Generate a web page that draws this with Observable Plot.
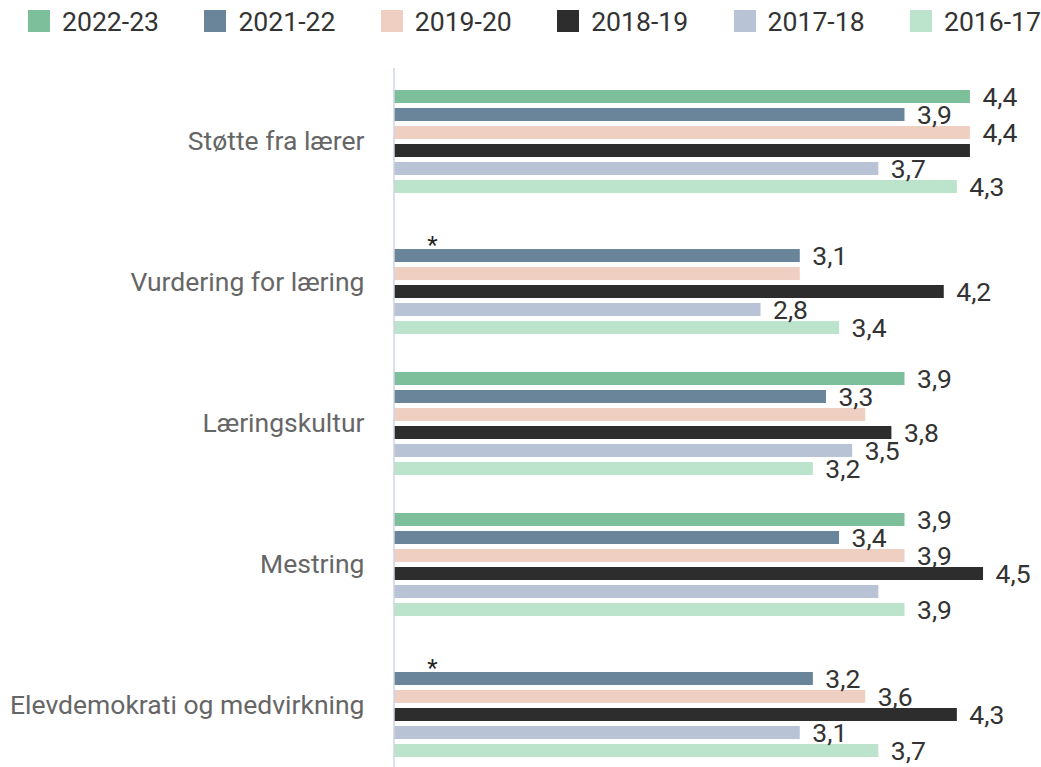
<!DOCTYPE html>
<html><head><meta charset="utf-8">
<script src="https://cdn.jsdelivr.net/npm/d3@7"></script>
<script src="https://cdn.jsdelivr.net/npm/@observablehq/plot@0.6"></script>
<style>
body{margin:0;background:#fff;font-family:Roboto,sans-serif;}
#legend{display:flex;height:42px;align-items:center;padding-left:28px;}
.item{display:flex;align-items:center;width:176.4px;font-size:26.6px;color:#333;flex:none;}
.sw{width:22px;height:22px;margin-right:12px;flex:none;}
</style></head><body>
<div id="legend"></div><div id="chart"></div>
<script>
const categories = ["Støtte fra lærer","Vurdering for læring","Læringskultur","Mestring","Elevdemokrati og medvirkning"];
const years = ["2022-23","2021-22","2019-20","2018-19","2017-18","2016-17"];
const colors = ["#7dbf9a","#6a8499","#f0cfc3","#2d2d2d","#b8c4d6","#bce3cb"];

// values per category, in the order of `years` (null = no data, marked with *)
const stotte        = [4.4, 3.9, 4.4, 4.4, 3.7, 4.3];
const vurdering     = [null, 3.1, 3.1, 4.2, 2.8, 3.4];
const laringskultur = [3.9, 3.3, 3.6, 3.8, 3.5, 3.2];
const mestring      = [3.9, 3.4, 3.9, 4.5, 3.7, 3.9];
const elevdemokrati = [null, 3.2, 3.6, 4.3, 3.1, 3.7];

// which value labels are printed in the original (1 = shown)
const stotteLabels        = [1,1,1,0,1,1];
const vurderingLabels     = [0,1,0,1,1,1];
const laringskulturLabels = [1,1,0,1,1,1];
const mestringLabels      = [1,1,1,1,0,1];
const elevdemokratiLabels = [0,1,1,1,1,1];

const series = [stotte, vurdering, laringskultur, mestring, elevdemokrati];
const labelFlags = [stotteLabels, vurderingLabels, laringskulturLabels, mestringLabels, elevdemokratiLabels];

const rows = [];
categories.forEach((cat, i) => years.forEach((year, j) => {
  rows.push({cat, year, value: series[i][j], show: labelFlags[i][j] === 1, base: 0});
}));

const fmt = v => d3.format(".1f")(v).replace(".", ",");

// legend
const legend = d3.select("#legend");
years.forEach((y, i) => {
  const it = legend.append("div").attr("class", "item");
  it.append("div").attr("class", "sw").style("background", colors[i]);
  it.append("span").text(y);
});

const W = 1041, H = 767 - 42;
const plot = Plot.plot({
  width: W,
  height: H,
  marginLeft: 394,
  marginRight: 18.7,
  marginTop: 43,
  marginBottom: 5,
  style: {fontFamily: "Roboto, sans-serif", fontSize: "26.5px", background: "#fff"},
  x: {domain: [0, 4.8], axis: null},
  y: {domain: years, axis: null, paddingInner: 0.29, paddingOuter: 0.15},
  fy: {domain: categories, label: null, paddingInner: 0.2, paddingOuter: 0},
  color: {domain: years, range: colors},
  marks: [
    Plot.axisFy({anchor: "left", tickSize: 0, tickPadding: 30, color: "#666", fontSize: 26.5, label: null}),
    Plot.barX(rows.filter(d => d.value != null), {x: "value", y: "year", fy: "cat", fill: "year"}),
    Plot.text(rows.filter(d => d.value != null && d.show), {
      x: "value", y: "year", fy: "cat", text: d => fmt(d.value),
      textAnchor: "start", dx: 12, dy: 1, fill: "#333", fontSize: 26.5
    }),
    Plot.text(rows.filter(d => d.value == null), {
      x: "base", y: "year", fy: "cat", text: () => "*",
      textAnchor: "middle", dx: 38, dy: 7, fill: "#222", fontSize: 24
    })
  ]
});
document.getElementById("chart").appendChild(plot);

// continuous baseline through all groups
const x0 = plot.scale("x").apply(0);
d3.select(plot).append("line")
  .attr("x1", x0).attr("x2", x0)
  .attr("y1", 26).attr("y2", H)
  .attr("stroke", "#cdd5e6").attr("stroke-width", 1.5);
</script>
</body></html>
